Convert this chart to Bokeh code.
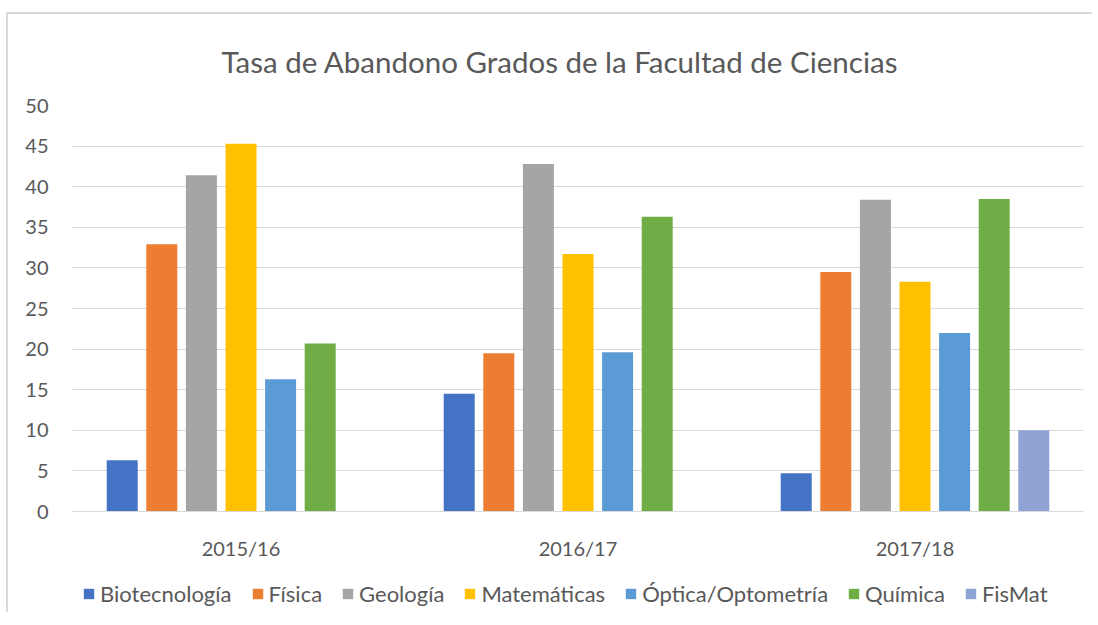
import math
from bokeh.plotting import figure
from bokeh.models import ColumnDataSource, FactorRange, Range1d, Legend, LegendItem, Title
from bokeh.transform import dodge
from bokeh.embed import file_html
from bokeh.resources import INLINE

years = ["2015/16", "2016/17", "2017/18"]
series = ["Biotecnología", "Física", "Geología", "Matemáticas", "Óptica/Optometría", "Química", "FisMat"]
biotecnologia = [6.3, 14.5, 4.7]
fisica = [32.9, 19.5, 29.5]
geologia = [41.4, 42.8, 38.4]
matematicas = [45.3, 31.7, 28.3]
optica = [16.3, 19.6, 22.0]
quimica = [20.7, 36.3, 38.5]
fismat = [None, None, 10.0]
colors = ["#4472C4", "#ED7D31", "#A5A5A5", "#FFC000", "#5B9BD5", "#70AD47", "#8FA3D5"]
values = [biotecnologia, fisica, geologia, matematicas, optica, quimica, fismat]
y_ticks = list(range(0, 51, 5))

FONT = "Lato"
TXT = "#595959"
GRID = "#d9d9d9"

p = figure(width=1086, height=600, x_range=FactorRange(*years, range_padding=0),
           y_range=Range1d(-12.68, 50), output_backend="svg", toolbar_location=None,
           min_border_left=64, min_border_right=11, min_border_top=91, min_border_bottom=0)
p.styles = {"border-top": "2px solid #d9d9d9", "border-left": "2px solid #d9d9d9",
            "margin-top": "12px", "margin-left": "6px"}

p.title = Title(text="Tasa de Abandono Grados de la Facultad de Ciencias", align="left",
                text_font=FONT, text_font_size="29.5px", text_font_style="normal",
                text_color=TXT, standoff=53, offset=149)

slot = 0.1175
bw = 0.092
items = []
for i, (name, vals, col) in enumerate(zip(series, values, colors)):
    xs = [y for y, v in zip(years, vals) if v is not None]
    ts = [v for v in vals if v is not None]
    src = ColumnDataSource(dict(x=xs, top=ts))
    r = p.vbar(x=dodge("x", (i - 3) * slot, range=p.x_range), top="top", width=bw,
               source=src, fill_color=col, line_color=None)
    items.append(LegendItem(label=name, renderers=[r]))

p.xgrid.visible = False
p.ygrid.grid_line_color = GRID
p.ygrid.grid_line_width = 1
p.ygrid.ticker = y_ticks

p.yaxis.ticker = y_ticks
p.yaxis.axis_line_color = None
p.yaxis.major_tick_line_color = None
p.yaxis.minor_tick_line_color = None
p.yaxis.major_label_text_font = FONT
p.yaxis.major_label_text_font_size = "20px"
p.yaxis.major_label_text_color = TXT
p.yaxis.major_label_standoff = 18

p.xaxis.fixed_location = 0
p.xaxis.axis_line_color = GRID
p.xaxis.major_tick_line_color = None
p.xaxis.minor_tick_line_color = None
p.xaxis.major_label_text_font = FONT
p.xaxis.major_label_text_font_size = "20px"
p.xaxis.major_label_text_color = TXT
p.xaxis.major_label_standoff = 18

p.outline_line_color = None

legend = Legend(items=items, orientation="horizontal", location=(10, 7),
                label_text_font=FONT, label_text_font_size="22px", label_text_color=TXT,
                glyph_width=13, glyph_height=13, label_standoff=5, spacing=19,
                padding=0, margin=0, border_line_color=None, background_fill_alpha=0)
p.add_layout(legend, "center")

open("out.html", "w").write(file_html(p, INLINE))
